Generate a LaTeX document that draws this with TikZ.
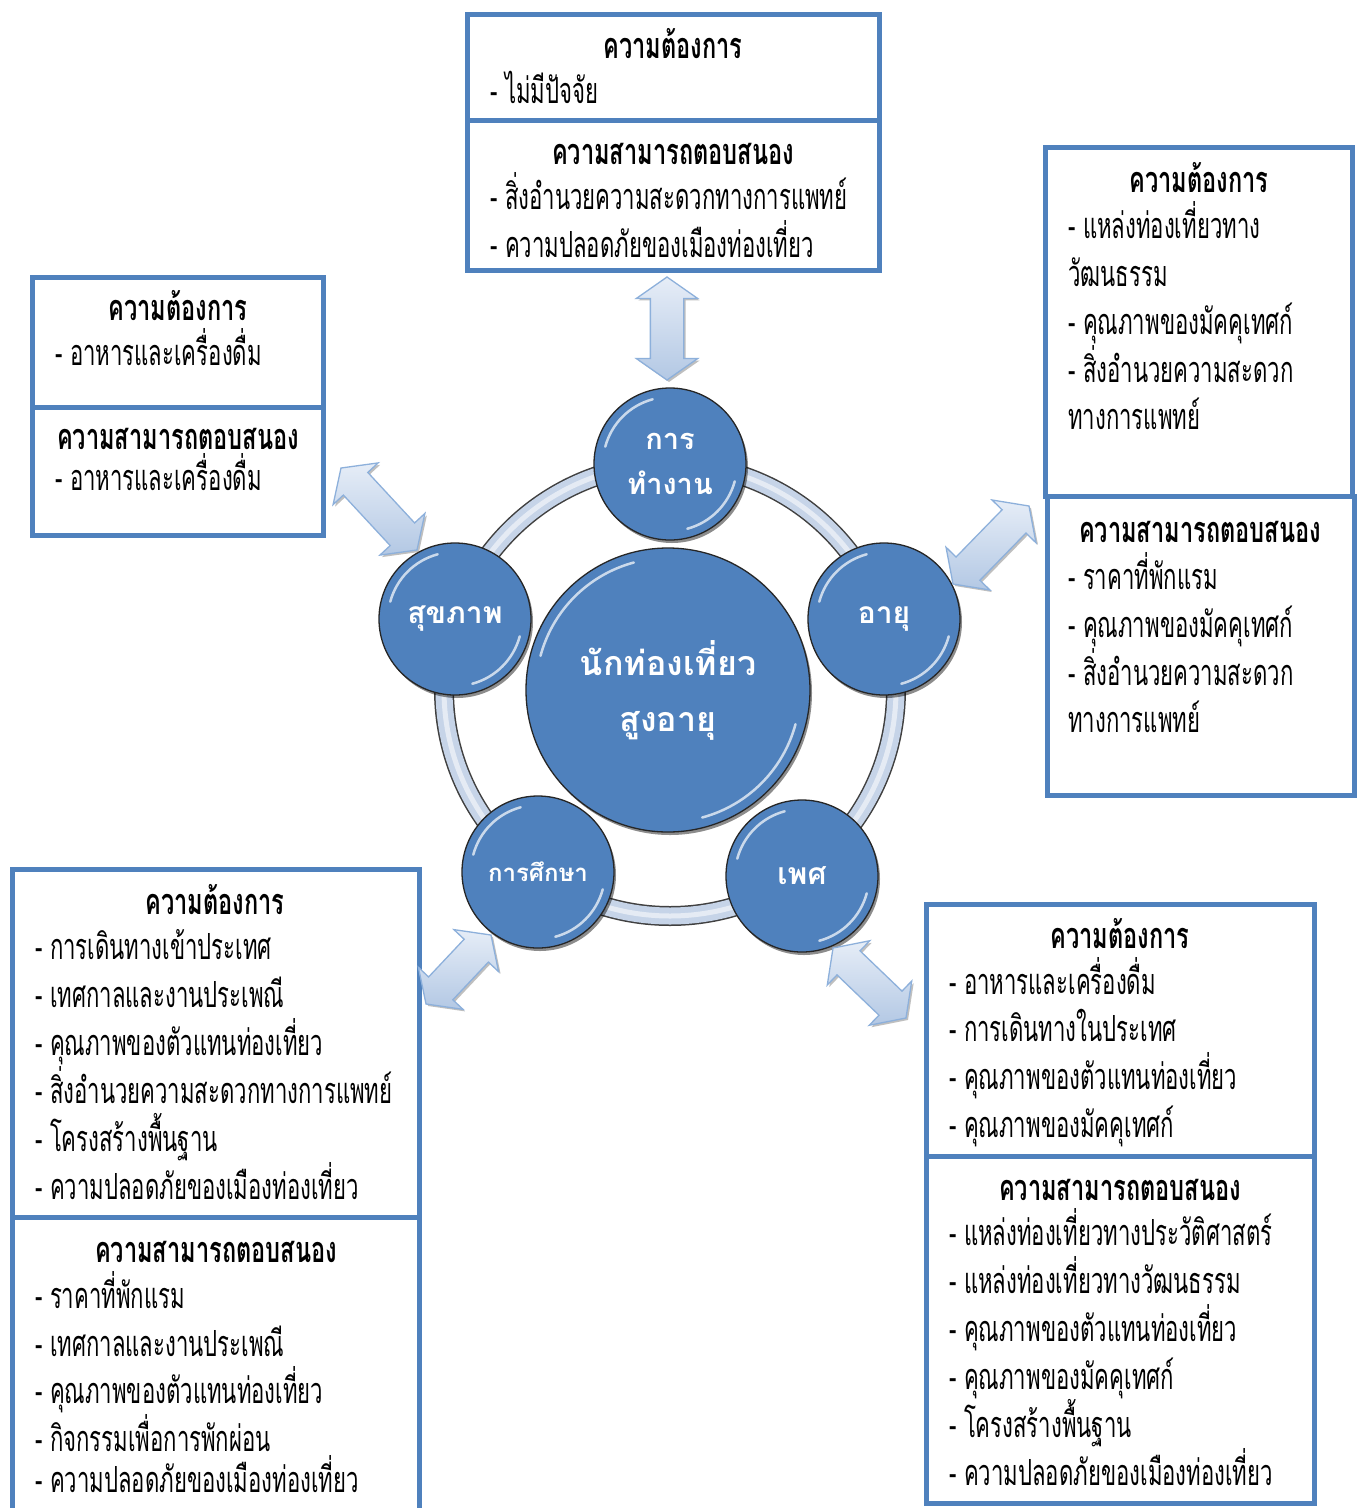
\documentclass[tikz,border=0pt]{standalone}
\usepackage{fontspec}
\newfontfamily\thai[Script=Thai,FakeStretch=0.615,BoldFeatures={FakeStretch=0.655}]{Loma}
\newfontfamily\thaiball[Script=Thai]{Loma}
\usetikzlibrary{shapes.arrows,shadows,calc}
\definecolor{panelblue}{HTML}{4F81BD}
\definecolor{ballblue}{HTML}{4F81BD}
\definecolor{arrowlight}{HTML}{E6EDF7}
\definecolor{arrowdark}{HTML}{B3C8E4}
\definecolor{arrowedge}{HTML}{8DB0DB}
\definecolor{ringfill}{HTML}{C6D4E8}
\newcommand\txtsize{\fontsize{36}{40}\selectfont}
\newcommand\glossarcs[2]{%
  \draw[gloss] ($(#1.center)+(195:#2)$) arc[start angle=195, end angle=255, radius=#2];
  \draw[gloss] ($(#1.center)+(15:#2)$) arc[start angle=15, end angle=75, radius=#2];}
\newcommand\bothways[2]{%
  \path let \p1=($(#2)-(#1)$), \n1={veclen(\x1,\y1)}, \n2={atan2(\y1,\x1)} in
    node[dblarrow, rotate=\n2, minimum height=\n1] at ($(#1)!0.5!(#2)$) {};}
\begin{document}
\begin{tikzpicture}[x=1pt,y=-1pt,
  panel/.style={draw=panelblue, line width=5pt},
  hd/.style={font=\thai\bfseries\txtsize, anchor=base, inner sep=0pt, yshift=-2.5pt},
  it/.style={font=\thai\txtsize, anchor=base west, inner sep=0pt, yshift=-2.5pt},
  ball/.style={circle, fill=ballblue, draw=black!85, line width=1.3pt,
    drop shadow={shadow xshift=2pt, shadow yshift=-3pt, fill=black, opacity=0.45},
    text=white, align=center, inner sep=0pt},
  gloss/.style={white, opacity=0.7, line width=2.5pt, line cap=round},
  dblarrow/.style={double arrow, double arrow head extend=14pt,
    double arrow tip angle=110, inner xsep=0pt, inner ysep=16pt,
    top color=arrowlight, bottom color=arrowdark, draw=arrowedge, line width=1.3pt,
    drop shadow={shadow xshift=2pt, shadow yshift=-2pt, fill=gray, opacity=0.5}}]
\useasboundingbox[fill=white] (0,0) rectangle (1361,1508);

% ---------- ring joining the five factors ----------
\coordinate (hub) at (670,690);
\draw[black!75, line width=20pt] (hub) circle[radius=226];
\draw[ringfill, line width=17pt] (hub) circle[radius=226];
\draw[white, opacity=0.55, line width=5pt] (hub) circle[radius=226];

% ---------- factor circles ----------
\node[ball, minimum size=284pt, font=\thaiball\bfseries\fontsize{34}{56}\selectfont] (core) at (668,690) {นักท่องเที่ยว\\สูงอายุ};
\node[ball, minimum size=152pt, font=\thaiball\bfseries\fontsize{29}{45}\selectfont] (work) at (670,464) {การ\\ทำงาน};
\node[ball, minimum size=152pt, font=\thaiball\bfseries\fontsize{30}{45}\selectfont] (age) at (884,619) {อายุ};
\node[ball, minimum size=152pt, font=\thaiball\bfseries\fontsize{30}{45}\selectfont] (sex) at (802,876) {เพศ};
\node[ball, minimum size=152pt, font=\thaiball\bfseries\fontsize{24}{45}\selectfont] (edu) at (538,872) {การศึกษา};
\node[ball, minimum size=152pt, font=\thaiball\bfseries\fontsize{30}{45}\selectfont] (health) at (455,619) {สุขภาพ};
\glossarcs{core}{132}
\glossarcs{work}{67}
\glossarcs{age}{67}
\glossarcs{sex}{67}
\glossarcs{edu}{67}
\glossarcs{health}{67}

% ---------- top panel : work ----------
\draw[panel] (467,14) rectangle (879,120);
\draw[panel] (467,120) rectangle (879,270);
\node[hd] (twh1) at (673,56) {ความต้องการ};
\node[it] (twi1) at (490,101) {- ไม่มีปัจจัย};
\node[hd] (twh2) at (673,162) {ความสามารถตอบสนอง};
\node[it] (twi2) at (490,207) {- สิ่งอำนวยความสะดวกทางการแพทย์};
\node[it] (twi3) at (490,255) {- ความปลอดภัยของเมืองท่องเที่ยว};

% ---------- left panel : health ----------
\draw[panel] (32,277) rectangle (323,407);
\draw[panel] (32,407) rectangle (323,535);
\node[hd] (lhh1) at (178,318) {ความต้องการ};
\node[it] (lhi1) at (55,363) {- อาหารและเครื่องดื่ม};
\node[hd] (lhh2) at (178,447) {ความสามารถตอบสนอง};
\node[it] (lhi2) at (55,488) {- อาหารและเครื่องดื่ม};

% ---------- right panel : age ----------
\draw[panel] (1045,147) rectangle (1352,496);
\draw[panel] (1047,496) rectangle (1354,795);
\node[hd] (rah1) at (1199,190) {ความต้องการ};
\node[it] (rai1) at (1068,236) {- แหล่งท่องเที่ยวทาง};
\node[it] (rai2) at (1068,284) {วัฒนธรรม};
\node[it] (rai3) at (1068,332) {- คุณภาพของมัคคุเทศก์};
\node[it] (rai4) at (1068,380) {- สิ่งอำนวยความสะดวก};
\node[it] (rai5) at (1068,427) {ทางการแพทย์};
\node[hd] (rah2) at (1200,540) {ความสามารถตอบสนอง};
\node[it] (rai6) at (1068,587) {- ราคาที่พักแรม};
\node[it] (rai7) at (1068,635) {- คุณภาพของมัคคุเทศก์};
\node[it] (rai8) at (1068,683) {- สิ่งอำนวยความสะดวก};
\node[it] (rai9) at (1068,730) {ทางการแพทย์};

% ---------- lower left panel : education ----------
\draw[panel] (12,869) rectangle (419,1217);
\draw[panel] (12,1217) -- (12,1520) (419,1217) -- (419,1520);
\node[hd] (leh1) at (215,912) {ความต้องการ};
\node[it] (lei1) at (35,957) {- การเดินทางเข้าประเทศ};
\node[it] (lei2) at (35,1005) {- เทศกาลและงานประเพณี};
\node[it] (lei3) at (35,1053) {- คุณภาพของตัวแทนท่องเที่ยว};
\node[it] (lei4) at (35,1101) {- สิ่งอำนวยความสะดวกทางการแพทย์};
\node[it] (lei5) at (35,1149) {- โครงสร้างพื้นฐาน};
\node[it] (lei6) at (35,1197) {- ความปลอดภัยของเมืองท่องเที่ยว};
\node[hd] (leh2) at (216,1260) {ความสามารถตอบสนอง};
\node[it] (lei7) at (35,1306) {- ราคาที่พักแรม};
\node[it] (lei8) at (35,1354) {- เทศกาลและงานประเพณี};
\node[it] (lei9) at (35,1401) {- คุณภาพของตัวแทนท่องเที่ยว};
\node[it] (lei10) at (35,1449) {- กิจกรรมเพื่อการพักผ่อน};
\node[it] (lei11) at (35,1490) {- ความปลอดภัยของเมืองท่องเที่ยว};

% ---------- lower right panel : sex ----------
\draw[panel] (926,904) rectangle (1314,1156);
\draw[panel] (926,1156) rectangle (1314,1503);
\node[hd] (rsh1) at (1120,946) {ความต้องการ};
\node[it] (rsi1) at (949,992) {- อาหารและเครื่องดื่ม};
\node[it] (rsi2) at (949,1039) {- การเดินทางในประเทศ};
\node[it] (rsi3) at (949,1087) {- คุณภาพของตัวแทนท่องเที่ยว};
\node[it] (rsi4) at (949,1135) {- คุณภาพของมัคคุเทศก์};
\node[hd] (rsh2) at (1120,1198) {ความสามารถตอบสนอง};
\node[it] (rsi5) at (949,1243) {- แหล่งท่องเที่ยวทางประวัติศาสตร์};
\node[it] (rsi6) at (949,1291) {- แหล่งท่องเที่ยวทางวัฒนธรรม};
\node[it] (rsi7) at (949,1339) {- คุณภาพของตัวแทนท่องเที่ยว};
\node[it] (rsi8) at (949,1387) {- คุณภาพของมัคคุเทศก์};
\node[it] (rsi9) at (949,1435) {- โครงสร้างพื้นฐาน};
\node[it] (rsi10) at (949,1483) {- ความปลอดภัยของเมืองท่องเที่ยว};

% ---------- two-way links between panels and circles ----------
\coordinate (aTopA) at (667,277);  \coordinate (aTopB) at (667,380);
\coordinate (aHeaA) at (341,468);  \coordinate (aHeaB) at (417,550);
\coordinate (aAgeA) at (953,584);  \coordinate (aAgeB) at (1029,506);
\coordinate (aEduA) at (426,1004); \coordinate (aEduB) at (491,935);
\coordinate (aSexA) at (833,948);  \coordinate (aSexB) at (906,1018);
\bothways{aTopA}{aTopB}
\bothways{aHeaA}{aHeaB}
\bothways{aAgeA}{aAgeB}
\bothways{aEduA}{aEduB}
\bothways{aSexA}{aSexB}
\end{tikzpicture}
\end{document}
